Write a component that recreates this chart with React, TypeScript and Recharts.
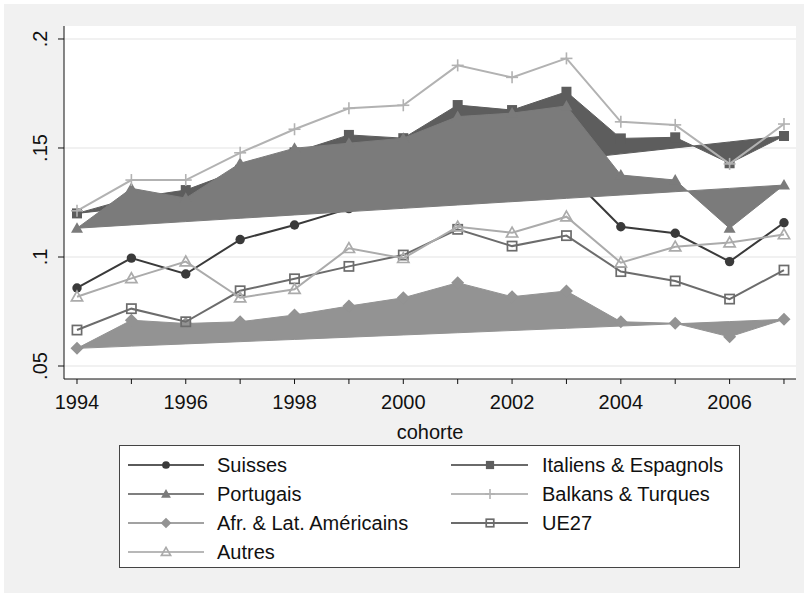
import React from "react";
import {
  Area,
  CartesianGrid,
  ComposedChart,
  Line,
  XAxis,
  YAxis,
} from "recharts";

const years = [1994, 1995, 1996, 1997, 1998, 1999, 2000, 2001, 2002, 2003, 2004, 2005, 2006, 2007];

const suisses = [0.0858, 0.0995, 0.0922, 0.108, 0.1147, 0.1222, 0.126, 0.131, 0.129, 0.139, 0.1139, 0.1109, 0.0979, 0.1157];
const italiens = [0.12, 0.127, 0.1307, 0.14, 0.148, 0.156, 0.1545, 0.1697, 0.1674, 0.1758, 0.1544, 0.1549, 0.143, 0.1555];
const portugais = [0.1132, 0.1315, 0.127, 0.143, 0.1499, 0.1522, 0.1545, 0.1644, 0.166, 0.1693, 0.1376, 0.1353, 0.1132, 0.133];
const balkans = [0.1212, 0.1353, 0.1353, 0.1478, 0.1586, 0.1682, 0.1696, 0.1879, 0.1824, 0.1911, 0.162, 0.1606, 0.1427, 0.161];
const afrLat = [0.0581, 0.071, 0.0695, 0.0703, 0.0734, 0.0775, 0.0813, 0.0882, 0.0818, 0.0844, 0.0703, 0.0696, 0.0634, 0.0714];
const ue27 = [0.0665, 0.0763, 0.0703, 0.0845, 0.09, 0.0957, 0.1009, 0.1127, 0.105, 0.1098, 0.0933, 0.089, 0.0807, 0.094];
const autres = [0.0818, 0.0902, 0.0979, 0.0813, 0.0852, 0.104, 0.0994, 0.1139, 0.1111, 0.1185, 0.0974, 0.1047, 0.1066, 0.1103];

const yTicks = [0.05, 0.1, 0.15, 0.2];
const xDomain = [1993.761, 2007.221];
const yDomain = [0.04404, 0.20596];

// the filled series close back along a straight line from first to last point
const chord = (arr: number[], i: number) =>
  arr[0] + ((arr[arr.length - 1] - arr[0]) * i) / (arr.length - 1);

const data = years.map((year, i) => ({
  year,
  suisses: suisses[i],
  italiens: italiens[i],
  italiensBase: chord(italiens, i),
  portugais: portugais[i],
  portugaisBase: chord(portugais, i),
  balkans: balkans[i],
  afrLat: afrLat[i],
  afrLatBase: chord(afrLat, i),
  ue27: ue27[i],
  autres: autres[i],
}));

type Shape =
  | "circle"
  | "square"
  | "triangle"
  | "diamond"
  | "plus"
  | "squareHollow"
  | "triangleHollow";

const Marker = ({
  shape,
  cx,
  cy,
  color,
  s = 1,
}: {
  shape: Shape;
  cx: number;
  cy: number;
  color: string;
  s?: number;
}) => {
  if (cx == null || cy == null) return null;
  switch (shape) {
    case "circle":
      return <circle cx={cx} cy={cy} r={4.7 * s} fill={color} />;
    case "square": {
      const h = 5 * s;
      return <rect x={cx - h} y={cy - h} width={2 * h} height={2 * h} fill={color} />;
    }
    case "triangle": {
      const h = 6 * s;
      return (
        <polygon
          points={`${cx},${cy - h} ${cx + h},${cy + h * 0.75} ${cx - h},${cy + h * 0.75}`}
          fill={color}
        />
      );
    }
    case "diamond": {
      const h = 6.5 * s;
      return (
        <polygon
          points={`${cx},${cy - h} ${cx + h},${cy} ${cx},${cy + h} ${cx - h},${cy}`}
          fill={color}
        />
      );
    }
    case "plus": {
      const h = 6 * s;
      return (
        <g stroke={color} strokeWidth={1.6}>
          <line x1={cx - h} y1={cy} x2={cx + h} y2={cy} />
          <line x1={cx} y1={cy - h} x2={cx} y2={cy + h} />
        </g>
      );
    }
    case "squareHollow": {
      const h = 4.6 * s;
      return (
        <rect
          x={cx - h}
          y={cy - h}
          width={2 * h}
          height={2 * h}
          fill="none"
          stroke={color}
          strokeWidth={1.7}
        />
      );
    }
    case "triangleHollow": {
      const h = 5.6 * s;
      return (
        <polygon
          points={`${cx},${cy - h} ${cx + h},${cy + h * 0.75} ${cx - h},${cy + h * 0.75}`}
          fill="none"
          stroke={color}
          strokeWidth={1.7}
        />
      );
    }
  }
  return null;
};

const dotOf = (shape: Shape, color: string) => (props: any) => (
  <Marker key={`${shape}-${props.index}`} shape={shape} cx={props.cx} cy={props.cy} color={color} />
);

const series = [
  { name: "Suisses", shape: "circle" as Shape, line: "#3a3a3a", mark: "#3a3a3a", legendLine: "#5a5a5a" },
  { name: "Italiens & Espagnols", shape: "square" as Shape, line: "#5d5d5d", mark: "#5d5d5d", legendLine: "#6a6a6a" },
  { name: "Portugais", shape: "triangle" as Shape, line: "#7b7b7b", mark: "#7b7b7b", legendLine: "#7f7f7f" },
  { name: "Balkans & Turques", shape: "plus" as Shape, line: "#b2b2b2", mark: "#b2b2b2", legendLine: "#b8b8b8" },
  { name: "Afr. & Lat. Américains", shape: "diamond" as Shape, line: "#939393", mark: "#939393", legendLine: "#a2a2a2" },
  { name: "UE27", shape: "squareHollow" as Shape, line: "#6c6c6c", mark: "#6c6c6c", legendLine: "#6c6c6c" },
  { name: "Autres", shape: "triangleHollow" as Shape, line: "#ababab", mark: "#ababab", legendLine: "#b8b8b8" },
];

const font = "'Liberation Sans', Arial, Helvetica, sans-serif";

const XTick = ({ x, y, payload }: any) => {
  if (payload.value % 2 !== 0) return null;
  return (
    <text x={x} y={y} dy={23} textAnchor="middle" fontSize={20} fill="#111" fontFamily={font}>
      {payload.value}
    </text>
  );
};

const YTick = ({ x, y, payload }: any) => {
  const bx = x - 9;
  const label = String(payload.value).replace(/^0/, "");
  return (
    <text
      x={bx}
      y={y}
      textAnchor="middle"
      fontSize={20}
      fill="#111"
      fontFamily={font}
      transform={`rotate(-90, ${bx}, ${y})`}
    >
      {label}
    </text>
  );
};

const ChartLegend = () => {
  const cols = [
    { lx1: 9, lx2: 85, mx: 47, tx: 98 },
    { lx1: 332, lx2: 409, mx: 371, tx: 423 },
  ];
  return (
    <svg
      width={621}
      height={123}
      style={{ position: "absolute", left: 119, top: 445 }}
    >
      <rect x={0.5} y={0.5} width={620} height={122} fill="#fff" stroke="#444" />
      {series.map((s, i) => {
        const c = cols[i % 2];
        const cy = 20 + Math.floor(i / 2) * 29;
        return (
          <g key={s.name}>
            <line x1={c.lx1} y1={cy} x2={c.lx2} y2={cy} stroke={s.legendLine} strokeWidth={2} />
            <Marker shape={s.shape} cx={c.mx} cy={cy} color={s.mark} s={0.82} />
            <text x={c.tx} y={cy + 7} fontSize={20} fill="#111" fontFamily={font}>
              {s.name}
            </text>
          </g>
        );
      })}
    </svg>
  );
};

// every layer is a chart of the same size and domains, stacked so the
// series paint in the same order as the original figure
const Layer = ({ children }: { children: React.ReactNode }) => (
  <div style={{ position: "absolute", left: 0, top: 0 }}>
    <ComposedChart
      width={808}
      height={597}
      data={data}
      margin={{ top: 26, right: 12, left: 64, bottom: 218 }}
    >
      <XAxis dataKey="year" type="number" domain={xDomain} allowDataOverflow hide />
      <YAxis type="number" domain={yDomain} allowDataOverflow hide />
      {children}
    </ComposedChart>
  </div>
);

const areaProps = (color: string, shape: Shape) => ({
  type: "linear" as const,
  stroke: color,
  strokeWidth: 1,
  fill: color,
  fillOpacity: 1,
  dot: dotOf(shape, color),
  activeDot: false as const,
  isAnimationActive: false,
});

const lineProps = (color: string, shape: Shape) => ({
  type: "linear" as const,
  stroke: color,
  strokeWidth: 2,
  dot: dotOf(shape, color),
  activeDot: false as const,
  isAnimationActive: false,
});

export default function App() {
  const [suis, ital, port, balk, afr, ue, aut] = series;
  return (
    <div
      style={{
        position: "absolute",
        left: 0,
        top: 0,
        width: 808,
        height: 597,
        background: "#fff",
        fontFamily: font,
      }}
    >
      <div
        style={{
          position: "absolute",
          left: 4,
          top: 4,
          width: 800,
          height: 589,
          background: "#f1f1f1",
        }}
      />
      <div style={{ position: "absolute", left: 0, top: 0 }}>
        <ComposedChart
          width={808}
          height={597}
          data={data}
          margin={{ top: 26, right: 12, left: 0, bottom: 156 }}
        >
          <CartesianGrid
            vertical={false}
            horizontal
            fill="#fff"
            stroke="#ececec"
            strokeWidth={1.5}
            horizontalValues={yTicks}
          />
          <XAxis
            dataKey="year"
            type="number"
            domain={xDomain}
            allowDataOverflow
            ticks={years}
            interval={0}
            tickSize={5}
            height={62}
            axisLine={{ stroke: "#111" }}
            tickLine={{ stroke: "#111" }}
            tick={<XTick />}
            label={{
              value: "cohorte",
              position: "insideBottom",
              offset: 2,
              fontSize: 20,
              fill: "#111",
              fontFamily: font,
            }}
          />
          <YAxis
            type="number"
            domain={yDomain}
            allowDataOverflow
            ticks={yTicks}
            interval={0}
            width={64}
            tickSize={6}
            axisLine={{ stroke: "#111" }}
            tickLine={{ stroke: "#111" }}
            tick={<YTick />}
          />
          <Line dataKey="suisses" {...lineProps(suis.line, suis.shape)} />
        </ComposedChart>
      </div>
      <Layer>
        <Area dataKey={(d: any) => [d.italiensBase, d.italiens]} {...areaProps(ital.line, ital.shape)} />
      </Layer>
      <Layer>
        <Area dataKey={(d: any) => [d.portugaisBase, d.portugais]} {...areaProps(port.line, port.shape)} />
      </Layer>
      <Layer>
        <Line dataKey="balkans" {...lineProps(balk.line, balk.shape)} />
      </Layer>
      <Layer>
        <Area dataKey={(d: any) => [d.afrLatBase, d.afrLat]} {...areaProps(afr.line, afr.shape)} />
      </Layer>
      <Layer>
        <Line dataKey="ue27" {...lineProps(ue.line, ue.shape)} />
      </Layer>
      <Layer>
        <Line dataKey="autres" {...lineProps(aut.line, aut.shape)} />
      </Layer>
      <ChartLegend />
    </div>
  );
}
